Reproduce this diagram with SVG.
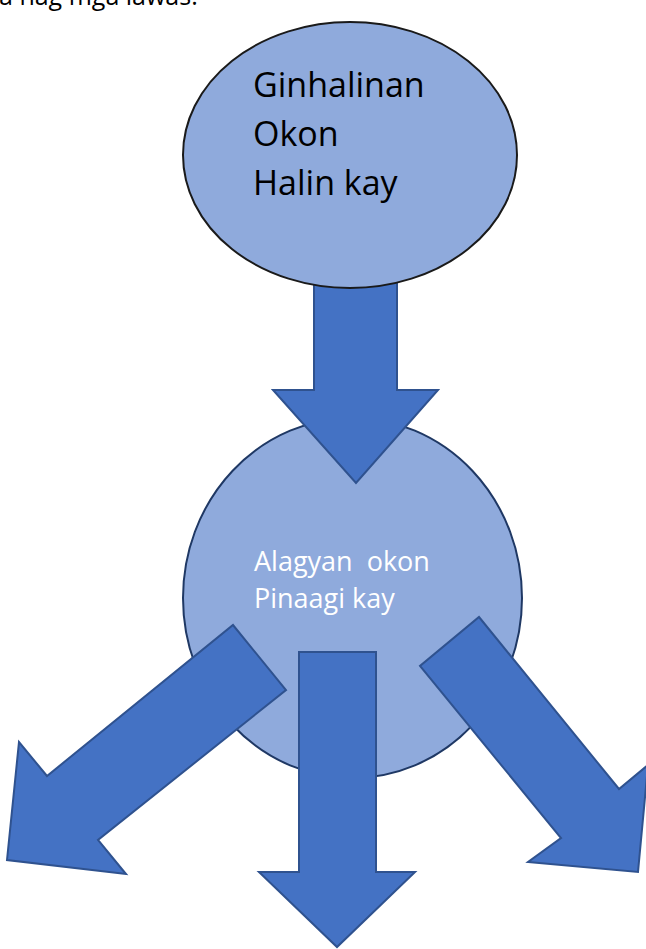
<svg xmlns="http://www.w3.org/2000/svg" width="646" height="949" viewBox="0 0 646 949">
<style>
.bg{fill:#ffffff}
.node{fill:#8FAADC}
.top{stroke:#1a1a1a;stroke-width:2}
.mid{stroke:#1F3864;stroke-width:2}
.arrow{fill:#4472C4;stroke:#2F528F;stroke-width:2;stroke-linejoin:miter}
.t1{font-family:"Open Sans","DejaVu Sans",sans-serif;font-size:34px;fill:#000}
.t2{font-family:"Open Sans","DejaVu Sans",sans-serif;font-size:27px;fill:#ffffff;white-space:pre}
.cap{font-family:"Open Sans","DejaVu Sans",sans-serif;font-size:25px;fill:#000}
</style>
<rect class="bg" x="0" y="0" width="646" height="949"/>
<text class="cap" x="-1" y="5">a nag mga lawas.</text>
<g id="node-alagyan">
<ellipse class="node mid" cx="352.5" cy="598" rx="169.5" ry="180"/>
<text class="t2" x="254" y="571" xml:space="preserve">Alagyan  okon</text>
<text class="t2" x="254" y="608">Pinaagi kay</text>
</g>
<g id="connectors">
<polygon id="arrow-top" class="arrow" points="314,282 397,282 397,390 438,390 356,483 273,390 314,390"/>
</g>
<g id="node-ginhalinan">
<ellipse class="node top" cx="350" cy="155" rx="167" ry="133"/>
<text class="t1" x="253" y="97">Ginhalinan</text>
<text class="t1" x="253" y="146">Okon</text>
<text class="t1" x="253" y="195">Halin kay</text>
</g>
<g id="connectors-out">
<polygon id="arrow-left" class="arrow" points="233,625 286,690 98,840 126,874 7,860 19,742 47,776"/>
<polygon id="arrow-right" class="arrow" points="479,617 619,789 648,765 638,872 528,862 561,838 420,666"/>
<polygon id="arrow-down" class="arrow" points="299,652 376,652 376,872 415,872 337,947 259,872 299,872"/>
</g>
</svg>
